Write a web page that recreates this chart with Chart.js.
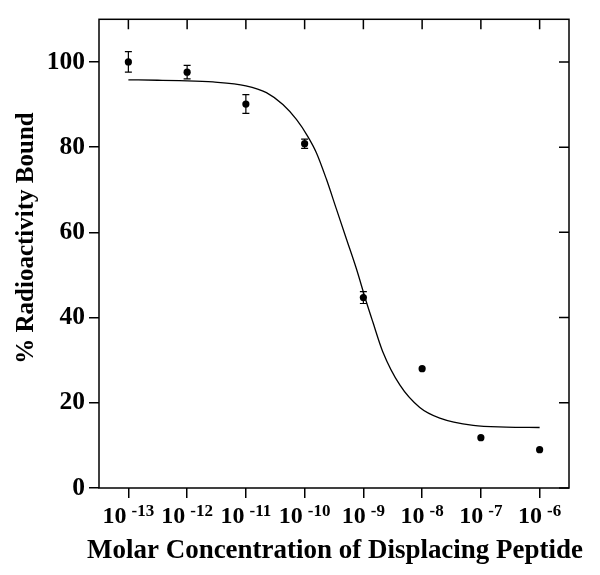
<!DOCTYPE html>
<html><head><meta charset="utf-8">
<script src="https://cdn.jsdelivr.net/npm/chart.js@4/dist/chart.umd.min.js"></script>
<style>html,body{margin:0;padding:0;background:#fff}#wrap{width:600px;height:575px}</style>
</head><body><div id="wrap"><canvas id="c" width="600" height="575"></canvas></div>
<script>
// log10 of molar concentration
const xTicks = [-13, -12, -11, -10, -9, -8, -7, -6];
const xTickExponents = ['-13', '-12', '-11', '-10', '-9', '-8', '-7', '-6'];
const yTicks = [0, 20, 40, 60, 80, 100];
const pointX = [-13, -12, -11, -10, -9, -8, -7, -6];
const pointY = [100, 97.6, 90.1, 80.8, 44.7, 28.0, 11.8, 9.0];
const pointErr = [2.4, 1.6, 2.2, 1.1, 1.4, 0, 0, 0];
const curveX = [-13, -12.5, -12.13, -11.56, -11.0, -10.65, -10.37, -10.14, -9.95, -9.80, -9.63, -9.46, -9.29, -9.12, -8.95, -8.84, -8.67, -8.38, -8.04, -7.70, -7.13, -6.57, -6.0];
const curveY = [95.8, 95.7, 95.6, 95.3, 94.4, 92.8, 90.0, 86.5, 82.6, 78.7, 72.5, 65.5, 58.5, 51.5, 43.7, 39.0, 32.0, 24.2, 18.9, 16.4, 14.7, 14.3, 14.2];
const xTitle = 'Molar Concentration of Displacing Peptide';
const yTitle = '% Radioactivity Bound';

const FONT = '"Liberation Serif", "Times New Roman", serif';

const framePlugin = {
  id: 'frame',
  afterDatasetsDraw(chart) {
    const {ctx, chartArea: a, scales: {x, y}} = chart;
    ctx.save();
    ctx.strokeStyle = '#000';
    // error bars
    ctx.lineWidth = 1.2;
    pointX.forEach((vx, i) => {
      if (!pointErr[i]) return;
      const px = x.getPixelForValue(vx);
      const y1 = y.getPixelForValue(pointY[i] + pointErr[i]);
      const y2 = y.getPixelForValue(pointY[i] - pointErr[i]);
      ctx.beginPath();
      ctx.moveTo(px, y1); ctx.lineTo(px, y2);
      ctx.moveTo(px - 3.5, y1); ctx.lineTo(px + 3.5, y1);
      ctx.moveTo(px - 3.5, y2); ctx.lineTo(px + 3.5, y2);
      ctx.stroke();
    });
    // frame
    ctx.lineWidth = 1.5;
    ctx.strokeRect(a.left, a.top, a.right - a.left, a.bottom - a.top);
    // inward ticks top and right
    ctx.beginPath();
    xTicks.forEach(v => {
      const px = x.getPixelForValue(v);
      ctx.moveTo(px, a.top); ctx.lineTo(px, a.top + 10);
    });
    yTicks.forEach(v => {
      const py = y.getPixelForValue(v);
      ctx.moveTo(a.right, py); ctx.lineTo(a.right - 10, py);
    });
    ctx.stroke();
    // x tick labels with superscripts
    ctx.fillStyle = '#000';
    ctx.textBaseline = 'alphabetic';
    const base = 'bold 24px ' + FONT;
    const sup = 'bold 17px ' + FONT;
    xTicks.forEach((v, i) => {
      const px = x.getPixelForValue(v);
      ctx.font = base; const w1 = ctx.measureText('10').width;
      ctx.font = sup; const w2 = ctx.measureText(xTickExponents[i]).width;
      const gap = 5;
      const start = px - (w1 + gap + w2) / 2;
      ctx.font = base; ctx.textAlign = 'left';
      ctx.fillText('10', start, 523);
      ctx.font = sup;
      ctx.fillText(xTickExponents[i], start + w1 + gap, 516);
    });
    // x axis title (sized to span ~496px like the reference)
    ctx.font = 'bold 28px ' + FONT;
    const tw = ctx.measureText(xTitle).width;
    const tsize = Math.min(30, 28 * 496 / tw);
    ctx.font = 'bold ' + tsize.toFixed(2) + 'px ' + FONT;
    ctx.textAlign = 'center';
    ctx.fillText(xTitle, (a.left + a.right) / 2 + 1, 558);
    // y axis title
    ctx.font = 'bold 25px ' + FONT;
    ctx.textAlign = 'center';
    ctx.textBaseline = 'middle';
    ctx.translate(27, 238);
    ctx.rotate(-Math.PI / 2);
    ctx.fillText(yTitle, 0, 0);
    ctx.restore();
  }
};

new Chart(document.getElementById('c'), {
  type: 'scatter',
  data: {
    datasets: [
      {
        label: 'fit',
        type: 'line',
        data: curveX.map((v, i) => ({x: v, y: curveY[i]})),
        borderColor: '#000',
        borderWidth: 1.3,
        pointRadius: 0,
        fill: false,
        cubicInterpolationMode: 'monotone'
      },
      {
        label: 'data',
        data: pointX.map((v, i) => ({x: v, y: pointY[i]})),
        backgroundColor: '#000',
        borderColor: '#000',
        pointRadius: 3.6,
        borderWidth: 0
      }
    ]
  },
  options: {
    responsive: false,
    animation: false,
    layout: {padding: {top: 16, right: 31, left: 0, bottom: 0}},
    plugins: {legend: {display: false}, tooltip: {enabled: false}},
    scales: {
      x: {
        type: 'linear', min: -13.5, max: -5.5,
        afterBuildTicks(s) { s.ticks = xTicks.map(v => ({value: v})); },
        afterFit(s) { s.height = 87; },
        ticks: {display: false},
        grid: {display: true, drawOnChartArea: false, drawTicks: true, tickLength: 10, color: '#000', lineWidth: 1.5},
        border: {display: false},
        title: {display: false}
      },
      y: {
        min: 0, max: 110,
        afterBuildTicks(s) { s.ticks = yTicks.map(v => ({value: v})); },
        afterFit(s) { s.width = 99; },
        ticks: {color: '#000', font: {family: FONT, size: 25.5, weight: 'bold'}, padding: 4},
        grid: {display: true, drawOnChartArea: false, drawTicks: true, tickLength: 10, color: '#000', lineWidth: 1.5},
        border: {display: false},
        title: {display: false}
      }
    }
  },
  plugins: [framePlugin]
});
</script>
</body></html>
